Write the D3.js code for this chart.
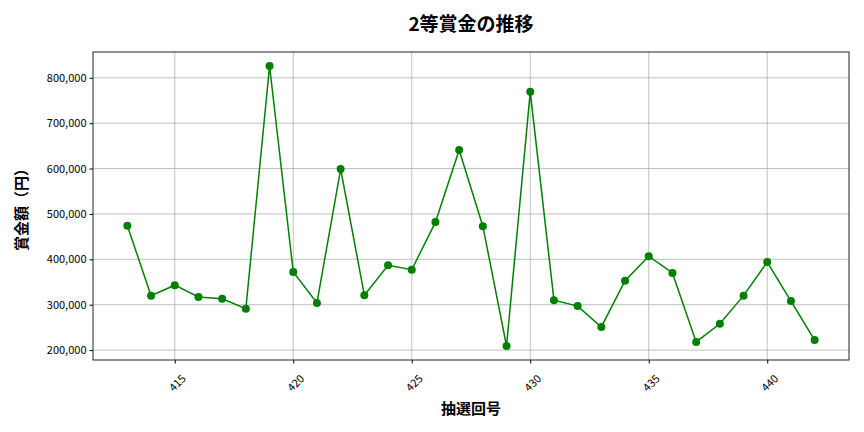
<!DOCTYPE html>
<html>
<head>
<meta charset="utf-8">
<script src="https://cdn.jsdelivr.net/npm/d3@7"></script>
<style>
  body { margin: 0; background: #fff; }
  svg, svg text { font-family: "Noto Sans CJK JP", "Noto Sans", sans-serif; }
</style>
</head>
<body>
<div id="chart"></div>
<script>
const draws = [413, 414, 415, 416, 417, 418, 419, 420, 421, 422, 423, 424, 425, 426, 427,
  428, 429, 430, 431, 432, 433, 434, 435, 436, 437, 438, 439, 440, 441, 442];
const prizes = [474000, 320000, 343000, 317000, 313000, 291000, 826000, 372000, 304000, 599000,
  321000, 387000, 377000, 482000, 641000, 473000, 209000, 769000, 310000, 297000,
  251000, 353000, 407000, 370000, 218000, 258000, 320000, 394000, 308000, 222000];
const xTicks = [415, 420, 425, 430, 435, 440];
const yTicks = [200000, 300000, 400000, 500000, 600000, 700000, 800000];

(function prizeChart() {
  const width = 864, height = 432;
  const margin = {top: 52, right: 15, bottom: 72, left: 93};
  const font = '"Noto Sans CJK JP", "Noto Sans", sans-serif';

  const svg = d3.select("#chart").append("svg")
    .attr("width", width)
    .attr("height", height);

  const xPad = (d3.max(draws) - d3.min(draws)) * 0.05;
  const x = d3.scaleLinear()
    .domain([d3.min(draws) - xPad, d3.max(draws) + xPad])
    .range([margin.left, width - margin.right]);

  const yPad = (d3.max(prizes) - d3.min(prizes)) * 0.05;
  const y = d3.scaleLinear()
    .domain([d3.min(prizes) - yPad, d3.max(prizes) + yPad])
    .range([height - margin.bottom, margin.top]);

  // grid
  svg.append("g")
    .selectAll("line")
    .data(xTicks)
    .join("line")
    .attr("x1", d => x(d)).attr("x2", d => x(d))
    .attr("y1", margin.top).attr("y2", height - margin.bottom)
    .attr("stroke", "#b0b0b0").attr("stroke-width", 0.8);

  svg.append("g")
    .selectAll("line")
    .data(yTicks)
    .join("line")
    .attr("x1", margin.left).attr("x2", width - margin.right)
    .attr("y1", d => y(d)).attr("y2", d => y(d))
    .attr("stroke", "#b0b0b0").attr("stroke-width", 0.8);

  // axes
  const xAxis = svg.append("g")
    .attr("transform", `translate(0,${height - margin.bottom})`)
    .call(d3.axisBottom(x).tickValues(xTicks).tickSize(3.5).tickPadding(3));
  xAxis.attr("font-family", font);
  xAxis.select(".domain").remove();
  xAxis.selectAll("text")
    .attr("font-size", 11)
    .attr("fill", "#000")
    .attr("text-anchor", "end")
    .attr("dy", "0.35em")
    .attr("transform", "translate(4,12) rotate(-45)");

  const yAxis = svg.append("g")
    .attr("transform", `translate(${margin.left},0)`)
    .call(d3.axisLeft(y).tickValues(yTicks).tickSize(3.5).tickPadding(3)
      .tickFormat(d3.format(",")));
  yAxis.attr("font-family", font);
  yAxis.select(".domain").remove();
  yAxis.selectAll("text").attr("font-size", 11).attr("fill", "#000");

  svg.append("rect")
    .attr("x", margin.left).attr("y", margin.top)
    .attr("width", width - margin.left - margin.right)
    .attr("height", height - margin.top - margin.bottom)
    .attr("fill", "none").attr("stroke", "#222").attr("stroke-width", 1);

  // line + markers
  const pts = draws.map((d, i) => [d, prizes[i]]);
  svg.append("path")
    .datum(pts)
    .attr("fill", "none")
    .attr("stroke", "green")
    .attr("stroke-width", 1.5)
    .attr("d", d3.line().x(d => x(d[0])).y(d => y(d[1])));

  svg.append("g")
    .selectAll("circle")
    .data(pts)
    .join("circle")
    .attr("cx", d => x(d[0]))
    .attr("cy", d => y(d[1]))
    .attr("r", 4)
    .attr("fill", "green");

  // labels
  svg.append("text")
    .attr("x", (margin.left + width - margin.right) / 2)
    .attr("y", 31)
    .attr("text-anchor", "middle")
    .attr("font-size", 19)
    .attr("font-weight", "bold")
    .text("2等賞金の推移");

  svg.append("text")
    .attr("x", (margin.left + width - margin.right) / 2)
    .attr("y", 414)
    .attr("text-anchor", "middle")
    .attr("font-size", 15)
    .attr("font-weight", "bold")
    .text("抽選回号");

  svg.append("text")
    .attr("transform", `translate(27,${(margin.top + height - margin.bottom) / 2}) rotate(-90)`)
    .attr("text-anchor", "middle")
    .attr("font-size", 15)
    .attr("font-weight", "bold")
    .text("賞金額（円）");
})();
</script>
</body>
</html>
